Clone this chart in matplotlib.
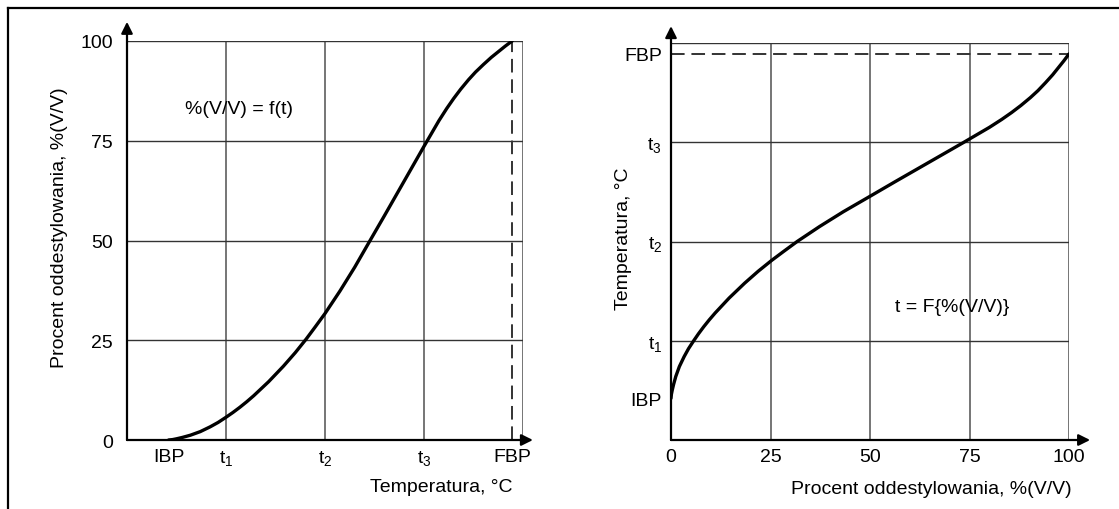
import matplotlib
matplotlib.use('Agg')
import matplotlib.pyplot as plt
from matplotlib.lines import Line2D

plt.rcParams['font.family'] = ['Liberation Sans', 'DejaVu Sans']
plt.rcParams['mathtext.fontset'] = 'custom'
plt.rcParams['mathtext.rm'] = 'Liberation Sans'
plt.rcParams['mathtext.it'] = 'Liberation Sans'

# ---- data (temperature in relative units: t1=1, t2=2, t3=3) ----
temp_rel = [0.42, 0.46, 0.50, 0.56, 0.64, 0.74, 0.84, 0.92, 1.00, 1.07, 1.14,
            1.21, 1.28, 1.43, 1.58, 1.70, 1.81, 1.90, 2.00, 2.15, 2.30, 2.46,
            2.60, 2.80, 3.00, 3.15, 3.23, 3.30, 3.37, 3.45, 3.52, 3.60, 3.68,
            3.75, 3.82, 3.89]
percent = [0.0, 0.1, 0.3, 0.65, 1.2, 2.1, 3.3, 4.4, 5.7, 6.9, 8.2,
           9.6, 11.1, 14.6, 18.5, 21.9, 25.3, 28.3, 31.7, 37.3, 43.3, 50.2,
           56.2, 64.9, 73.6, 80.0, 83.1, 85.6, 87.9, 90.3, 92.2, 94.1, 95.9,
           97.3, 98.7, 100.0]

IBP, FBP = 0.42, 3.89
temp_ticks = [IBP, 1, 2, 3, FBP]
temp_labels = ['IBP', r'$\mathregular{t_{1}}$', r'$\mathregular{t_{2}}$',
               r'$\mathregular{t_{3}}$', 'FBP']
pct_ticks = [0, 25, 50, 75, 100]
pct_labels = ['0', '25', '50', '75', '100']

W, H = 1119, 510
FS = 14


def rect(l, t, r, b):
    return [l / W, 1 - b / H, (r - l) / W, (b - t) / H]


fig = plt.figure(figsize=(W / 100, H / 100), dpi=100)

axL = fig.add_axes(rect(127, 42, 523, 441))
axR = fig.add_axes(rect(671, 44, 1069, 441))

vcol, hcol = '#6a6a6a', '#333333'
arrow = dict(arrowstyle='-|>', mutation_scale=17, lw=1.6, color='black',
             shrinkA=0, shrinkB=0)

# ---- left panel ----
axL.set_xlim(0, 4)
axL.set_ylim(0, 100)
for s in axL.spines.values():
    s.set_visible(False)
for x in [1, 2, 3, 4]:
    axL.axvline(x, color=vcol, lw=1.3, zorder=1)
for y in [25, 50, 75, 100]:
    axL.axhline(y, color=hcol, lw=1.0, zorder=1)
axL.plot([FBP, FBP], [0, 100], color='#333333', lw=1.4, ls=(0, (7, 3.5)), zorder=2)
axL.plot(temp_rel, percent, color='black', lw=2.4, zorder=3,
         solid_capstyle='round', solid_joinstyle='round')
axL.annotate('', xy=(0, 104.8), xytext=(0, 0), arrowprops=arrow,
             annotation_clip=False)
axL.annotate('', xy=(4.1, 0), xytext=(0, 0), arrowprops=arrow,
             annotation_clip=False)
axL.set_xticks(temp_ticks, temp_labels)
axL.set_yticks(pct_ticks, pct_labels)
axL.tick_params(axis='both', length=0, labelsize=FS)
axL.tick_params(axis='x', pad=6)
axL.tick_params(axis='y', pad=10)

# ---- right panel ----
axR.set_xlim(0, 100)
axR.set_ylim(0, 4)
for s in axR.spines.values():
    s.set_visible(False)
for x in [25, 50, 75, 100]:
    axR.axvline(x, color=vcol, lw=1.3, zorder=1)
for y in [1, 2, 3, 4]:
    axR.axhline(y, color=hcol, lw=1.0, zorder=1)
axR.plot([0, 100], [FBP, FBP], color='#333333', lw=1.4, ls=(0, (7, 3.5)), zorder=2)
axR.plot(percent, temp_rel, color='black', lw=2.4, zorder=3,
         solid_capstyle='round', solid_joinstyle='round')
axR.annotate('', xy=(0, 4.17), xytext=(0, 0), arrowprops=arrow,
             annotation_clip=False)
axR.annotate('', xy=(105.3, 0), xytext=(0, 0), arrowprops=arrow,
             annotation_clip=False)
axR.set_xticks(pct_ticks, pct_labels)
axR.set_yticks(temp_ticks, temp_labels)
axR.tick_params(axis='both', length=0, labelsize=FS)
axR.tick_params(axis='x', pad=6)
axR.tick_params(axis='y', pad=6.5)

# ---- texts ----
fig.text(239 / W, 1 - 109 / H, '%(V/V) = f(t)', ha='center', va='center', size=FS)
fig.text(952 / W, 1 - 308 / H, 't = F{%(V/V)}', ha='center', va='center', size=FS)
fig.text(513 / W, 1 - 488 / H, 'Temperatura, °C', ha='right', va='center', size=FS)
fig.text(60 / W, 1 - 228 / H, 'Procent oddestylowania, %(V/V)', rotation=90,
         ha='center', va='center', size=FS)
fig.text(1072 / W, 1 - 490 / H, 'Procent oddestylowania, %(V/V)', ha='right',
         va='center', size=FS)
fig.text(624 / W, 1 - 239 / H, 'Temperatura, °C', rotation=90,
         ha='center', va='center', size=FS)

# ---- outer frame (left and top edges) ----
fig.add_artist(Line2D([8 / W, 8 / W], [0, 1 - 9 / H], transform=fig.transFigure,
                      color='black', lw=1.6))
fig.add_artist(Line2D([8 / W, 1], [1 - 9 / H, 1 - 9 / H], transform=fig.transFigure,
                      color='black', lw=1.6))

fig.savefig('out.png', dpi=100)
